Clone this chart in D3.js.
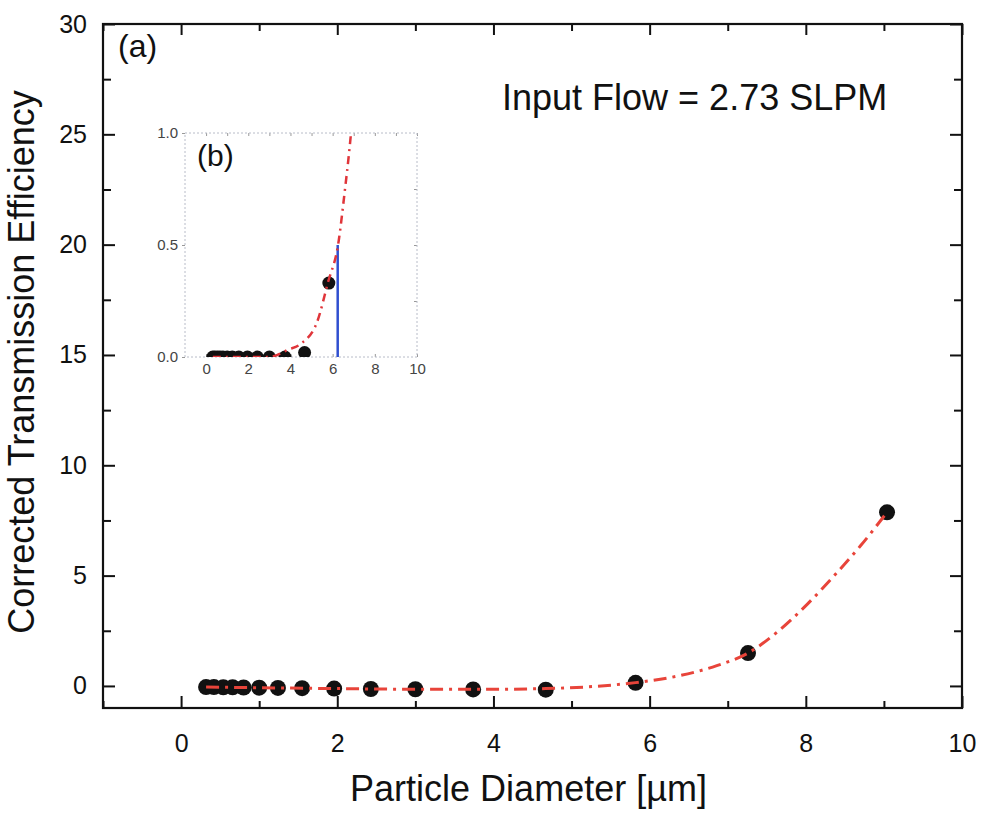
<!DOCTYPE html>
<html>
<head>
<meta charset="utf-8">
<script src="https://cdn.jsdelivr.net/npm/d3@7"></script>
<style>
  body { margin: 0; background: #fff; }
  text { font-family: "Liberation Sans", Arial, sans-serif; fill: #111; }
</style>
</head>
<body>
<div id="chart"></div>
<script>
// measured particle data (main panel a)
var diam = [0.32, 0.42, 0.54, 0.66, 0.80, 1.00, 1.24, 1.55, 1.96, 2.43, 3.00, 3.74, 4.67, 5.82, 7.26, 9.04];
var corrEff = [-0.05, -0.05, -0.06, -0.06, -0.07, -0.08, -0.09, -0.10, -0.12, -0.14, -0.15, -0.16, -0.17, 0.14, 1.49, 7.87];

// fitted curve (panel a)
var fitX = [0.32, 1.0, 2.0, 3.0, 4.0, 4.67, 5.3, 5.82, 6.39, 6.86, 7.26, 7.63, 8.02, 8.40, 8.70, 9.04];
var fitY = [-0.05, -0.08, -0.12, -0.15, -0.15, -0.12, -0.02, 0.15, 0.47, 0.92, 1.49, 2.43, 3.71, 5.14, 6.35, 7.87];

// inset (panel b)
var insetDiam = [0.32, 0.42, 0.54, 0.66, 0.80, 1.00, 1.24, 1.55, 1.96, 2.43, 3.00, 3.74, 4.67, 5.82];
var insetEff = [0, 0, 0, 0, 0, 0, 0, 0, 0, 0, 0, 0, 0.02, 0.33];
var insetFitX = [0.32, 1, 2, 3, 3.4, 3.85, 4.48, 5.27, 5.77, 6.29, 6.55, 6.81, 6.95];
var insetFitY = [0, 0, 0, 0, 0.01, 0.031, 0.058, 0.158, 0.33, 0.52, 0.72, 0.94, 1.08];
var cutX = 6.24, cutY = 0.5;

var xTicks = [0, 2, 4, 6, 8, 10];
var yTicks = [0, 5, 10, 15, 20, 25, 30];
var insetYTicks = [0, 0.5, 1.0];

var W = 983, H = 817;
var margin = {top: 24, right: 21, bottom: 109, left: 103},
    width = W - margin.left - margin.right,
    height = H - margin.top - margin.bottom;

var x = d3.scaleLinear().domain([-1, 10]).range([0, width]);
var y = d3.scaleLinear().domain([-1, 30]).range([height, 0]);

var svg = d3.select("#chart").append("svg")
    .attr("width", W)
    .attr("height", H)
  .append("g")
    .attr("transform", "translate(" + margin.left + "," + margin.top + ")");

// axes, ticks pointing inward
function styleAxis(g) {
  g.select(".domain").remove();
  g.selectAll("line").attr("stroke", "#111").attr("stroke-width", 2);
  g.selectAll("text").style("font-size", "25px");
}

var minorX = d3.range(-1, 11, 1).filter(function(d) { return d % 2 !== 0; });
var minorY = d3.range(2.5, 30, 5);

svg.append("g")
    .attr("transform", "translate(0," + height + ")")
    .call(d3.axisBottom(x).tickValues(xTicks).tickSizeInner(-12).tickSizeOuter(0).tickPadding(26))
    .call(styleAxis);
svg.append("g")
    .attr("transform", "translate(0," + height + ")")
    .call(d3.axisBottom(x).tickValues(minorX).tickSizeInner(-7).tickSizeOuter(0).tickFormat(""))
    .call(styleAxis);
svg.append("g")
    .call(d3.axisTop(x).tickValues(xTicks).tickSizeInner(-11).tickSizeOuter(0).tickFormat(""))
    .call(styleAxis);
svg.append("g")
    .call(d3.axisTop(x).tickValues(minorX).tickSizeInner(-7).tickSizeOuter(0).tickFormat(""))
    .call(styleAxis);

svg.append("g")
    .call(d3.axisLeft(y).tickValues(yTicks).tickSizeInner(-12).tickSizeOuter(0).tickPadding(16))
    .call(styleAxis);
svg.append("g")
    .call(d3.axisLeft(y).tickValues(minorY).tickSizeInner(-8).tickSizeOuter(0).tickFormat(""))
    .call(styleAxis);
svg.append("g")
    .attr("transform", "translate(" + width + ",0)")
    .call(d3.axisRight(y).tickValues(yTicks).tickSizeInner(-12).tickSizeOuter(0).tickFormat(""))
    .call(styleAxis);
svg.append("g")
    .attr("transform", "translate(" + width + ",0)")
    .call(d3.axisRight(y).tickValues(minorY).tickSizeInner(-8).tickSizeOuter(0).tickFormat(""))
    .call(styleAxis);

// frame
svg.append("rect")
    .attr("width", width)
    .attr("height", height)
    .attr("fill", "none")
    .attr("stroke", "#111")
    .attr("stroke-width", 2.2);

// data points
svg.append("g").selectAll("circle")
    .data(diam)
  .enter().append("circle")
    .attr("cx", function(d) { return x(d); })
    .attr("cy", function(d, i) { return y(corrEff[i]); })
    .attr("r", 8)
    .attr("fill", "#111");

// fit line
var fitLine = d3.line()
    .x(function(d) { return x(d[0]); })
    .y(function(d) { return y(d[1]); })
    .curve(d3.curveMonotoneX);

svg.append("path")
    .datum(fitX.map(function(d, i) { return [d, fitY[i]]; }))
    .attr("d", fitLine)
    .attr("fill", "none")
    .attr("stroke", "#e8443a")
    .attr("stroke-width", 3)
    .attr("stroke-dasharray", "13,6,3,6");

// labels
svg.append("text")
    .attr("x", 15).attr("y", 33)
    .style("font-size", "32px")
    .text("(a)");

svg.append("text")
    .attr("x", 399).attr("y", 86)
    .style("font-size", "36px")
    .text("Input Flow = 2.73 SLPM");

svg.append("text")
    .attr("x", width / 2 - 4).attr("y", height + 93)
    .attr("text-anchor", "middle")
    .style("font-size", "36px")
    .text("Particle Diameter [µm]");

svg.append("text")
    .attr("transform", "rotate(-90)")
    .attr("x", -(362 - margin.top)).attr("y", 34 - margin.left)
    .attr("text-anchor", "middle")
    .style("font-size", "36px")
    .text("Corrected Transmission Efficiency");

// ---- inset (b) ----
var inset = {left: 185, top: 133, right: 417, bottom: 357};
var iw = inset.right - inset.left, ih = inset.bottom - inset.top;
var ix = d3.scaleLinear().domain([-1, 10]).range([0, iw]);
var iy = d3.scaleLinear().domain([0, 1]).range([ih, 0]);

var ig = d3.select("svg").append("g")
    .attr("transform", "translate(" + inset.left + "," + inset.top + ")");

ig.append("clipPath").attr("id", "iclip")
  .append("rect").attr("width", iw).attr("height", ih);

function styleInset(g) {
  g.select(".domain").remove();
  g.selectAll("line").attr("stroke", "#999").attr("stroke-width", 1);
  g.selectAll("text").style("font-size", "15px").style("fill", "#444");
}

ig.append("g")
    .attr("transform", "translate(0," + ih + ")")
    .call(d3.axisBottom(ix).tickValues(xTicks).tickSizeInner(-3).tickSizeOuter(0).tickPadding(6))
    .call(styleInset);
ig.append("g")
    .call(d3.axisLeft(iy).tickValues(insetYTicks).tickSizeInner(3).tickSizeOuter(0).tickPadding(4)
      .tickFormat(d3.format(".1f")))
    .call(styleInset);
ig.append("g")
    .call(d3.axisTop(ix).tickValues(d3.range(0, 11, 1)).tickSizeInner(-3).tickSizeOuter(0).tickFormat(""))
    .call(styleInset);
ig.append("g")
    .attr("transform", "translate(" + iw + ",0)")
    .call(d3.axisRight(iy).tickValues([0.25, 0.5, 0.75]).tickSizeInner(-3).tickSizeOuter(0).tickFormat(""))
    .call(styleInset);

// faint dotted frame
ig.append("rect")
    .attr("width", iw)
    .attr("height", ih)
    .attr("fill", "none")
    .attr("stroke", "#b8bcc8")
    .attr("stroke-width", 1)
    .attr("stroke-dasharray", "2,2");

var plot = ig.append("g").attr("clip-path", "url(#iclip)");

plot.selectAll("circle")
    .data(insetDiam)
  .enter().append("circle")
    .attr("cx", function(d) { return ix(d); })
    .attr("cy", function(d, i) { return iy(insetEff[i]); })
    .attr("r", 6.5)
    .attr("fill", "#111");

plot.append("line")
    .attr("x1", ix(cutX)).attr("x2", ix(cutX))
    .attr("y1", iy(0)).attr("y2", iy(cutY))
    .attr("stroke", "#2f4fd0")
    .attr("stroke-width", 2.5);

var insetLine = d3.line()
    .x(function(d) { return ix(d[0]); })
    .y(function(d) { return iy(d[1]); })
    .curve(d3.curveMonotoneX);

plot.append("path")
    .datum(insetFitX.map(function(d, i) { return [d, insetFitY[i]]; }))
    .attr("d", insetLine)
    .attr("fill", "none")
    .attr("stroke", "#e0353a")
    .attr("stroke-width", 2.5)
    .attr("stroke-dasharray", "8,5,2,5");

ig.append("text")
    .attr("x", 12).attr("y", 33)
    .style("font-size", "30px")
    .text("(b)");
</script>
</body>
</html>
